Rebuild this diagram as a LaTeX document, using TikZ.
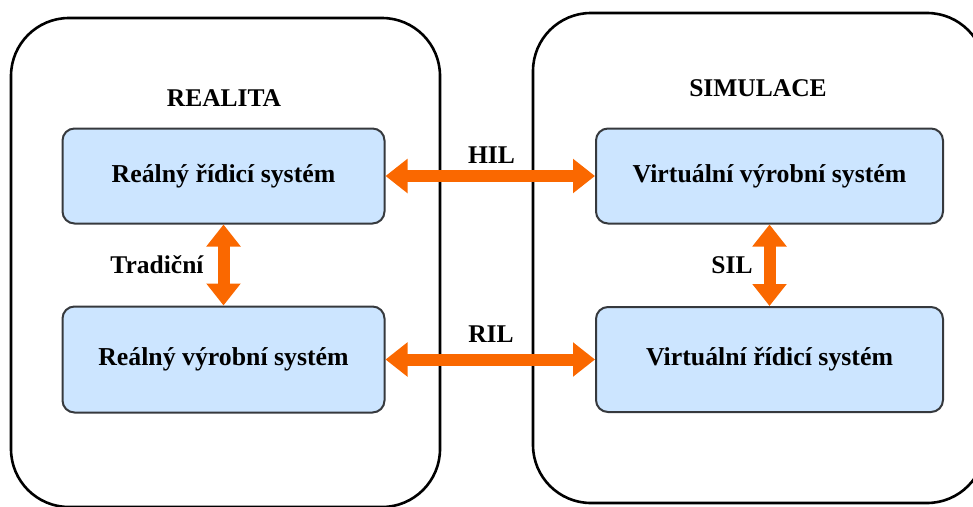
\documentclass[tikz,border=0pt]{standalone}
\usepackage{fontspec}
\setmainfont{Liberation Serif}
\usepackage{xcolor}
\usetikzlibrary{arrows.meta,positioning}

\definecolor{boxfill}{HTML}{CCE5FF}
\definecolor{boxline}{HTML}{36393D}
\definecolor{linkfill}{HTML}{FA6800}

\begin{document}
\begin{tikzpicture}[x=1pt,y=-1pt,
    sysbox/.style={draw=boxline, line width=2pt, fill=boxfill, rounded corners=12pt,
        minimum height=95pt, inner sep=0pt, font=\bfseries\fontsize{25.8}{30}\selectfont},
    tag/.style={anchor=base, inner sep=0pt, font=\bfseries\fontsize{25.5}{30}\selectfont},
    frame/.style={line width=2.6pt, rounded corners=58pt},
    link/.style={linkfill, line width=12pt,
        {Triangle[width=33pt,length=22pt]}-{Triangle[width=33pt,length=22pt]}}]

\useasboundingbox (0,0) rectangle (973,506);

% Realita and Simulace frames
\draw[frame] (11,18) rectangle (440,507);
\draw[frame] (533,13) rectangle (985,503);
\node[tag] (realita) at (224,106) {REALITA};
\node[tag] (simulace) at (758,96) {SIMULACE};

% Systems
\node[sysbox, minimum width=322pt] (rrs) at (223.5,176) {Reálný řídicí systém};
\node[sysbox, minimum width=322pt, minimum height=106pt] (rvs) at (223.5,359.5) {Reálný výrobní systém};
\node[sysbox, minimum width=347pt] (vvs) at (769.5,176) {Virtuální výrobní systém};
\node[sysbox, minimum width=347pt, minimum height=105pt] (vrs) at (769.5,359.5) {Virtuální řídicí systém};

% Links
\draw[link] (rrs) -- (vvs);
\draw[link] (rvs) -- (vrs);
\draw[link] (rrs) -- (rvs);
\draw[link] (vvs) -- (vrs);

\node[tag] (hil) at (491.5,163) {HIL};
\node[tag] (ril) at (491,342) {RIL};
\node[tag] (tradicni) at (157,273) {Tradiční};
\node[tag] (sil) at (732,273) {SIL};

\end{tikzpicture}
\end{document}
